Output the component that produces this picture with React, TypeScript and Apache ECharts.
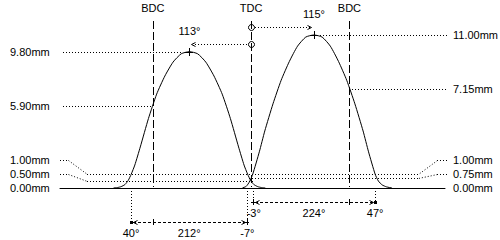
import React, { useEffect, useRef } from "react";
import * as echarts from "echarts";

// Valve lift curves (crank degrees relative to TDC, lift in mm)
const exhaustAngles = [-252, -245, -238, -231, -225, -219.5, -213, -203, -188, -173, -158, -143, -128, -113, -98, -83, -68, -53, -38, -23, -13, -6.5, -1, 5, 12, 19, 26];
const exhaustLift = [0, 0.03, 0.1, 0.25, 0.55, 1.0, 1.65, 2.95, 5.0, 6.75, 8.05, 9.05, 9.65, 9.8, 9.65, 9.05, 8.05, 6.75, 5.0, 2.95, 1.65, 1.0, 0.55, 0.25, 0.1, 0.03, 0];
const intakeAngles = [-16, -9, -3, 3, 15, 25, 40, 55, 70, 85, 100, 115, 130, 145, 160, 175, 190, 205, 215, 227, 233, 240, 248, 258];
const intakeLift = [0, 0.12, 0.45, 1.0, 2.6, 4.1, 6.05, 7.75, 9.1, 10.2, 10.85, 11.0, 10.85, 10.2, 9.1, 7.75, 6.05, 4.1, 2.6, 1.0, 0.5, 0.22, 0.08, 0];

// Dead centres
const deadCentres = [-180, 0, 180];
const deadCentreLabels = ["BDC", "TDC", "BDC"];

// Lobe centrelines
const peakAngles = [-113, 115];
const peakLifts = [9.8, 11.0];
const peakLabels = ["113°", "115°"];

// Valve events
const exhaustEvents = [-220, -7];
const exhaustEventLabels = ["40°", "212°", "-7°"];
const intakeEvents = [3, 227];
const intakeEventLabels = ["-3°", "224°", "47°"];

// Lift level labels
const leftLevels = [9.8, 5.9, 1.0, 0.5, 0];
const leftLevelLabels = ["9.80mm", "5.90mm", "1.00mm", "0.50mm", "0.00mm"];
const rightLevels = [11.0, 7.15, 1.0, 0.75, 0];
const rightLevelLabels = ["11.00mm", "7.15mm", "1.00mm", "0.75mm", "0.00mm"];

const X_MIN = -350;
const X_MAX = 355;
const FONT = { fontSize: 11, fontFamily: '"Liberation Sans", Arial, sans-serif' };
const DOT = [1, 2];
const DASH = [8, 3];
const SHORT = [3, 2];

function renderItem(params: any, api: any) {
  const c = (a: number, l: number) => api.coord([a, l]);
  const R = (v: number) => Math.round(v) + 0.5;
  const I = (v: number) => Math.round(v);
  const els: any[] = [];
  const line = (x1: number, y1: number, x2: number, y2: number, dash?: number[]) => {
    let shape;
    if (Math.abs(y1 - y2) < 0.01) shape = { x1: I(x1), y1: R(y1), x2: I(x2), y2: R(y2) };
    else if (Math.abs(x1 - x2) < 0.01) shape = { x1: R(x1), y1: I(y1), x2: R(x2), y2: I(y2) };
    else shape = { x1: R(x1), y1: R(y1), x2: R(x2), y2: R(y2) };
    els.push({
      type: "line",
      shape,
      style: { stroke: "#000", lineWidth: 1, lineDash: dash || null, fill: null },
    });
  };
  const poly = (pts: number[][]) =>
    els.push({
      type: "polyline",
      shape: { points: pts.map((p) => [R(p[0]), R(p[1])]) },
      style: { stroke: "#000", lineWidth: 1, fill: null },
    });
  const text = (s: string, x: number, y: number, align = "center") =>
    els.push({
      type: "text",
      x,
      y,
      style: { text: s, fill: "#000", ...FONT, align, verticalAlign: "middle" },
    });

  const yBase = c(0, 0)[1];
  const yTop = c(0, 11)[1];
  const xL = c(X_MIN, 0)[0];
  const xR = c(X_MAX, 0)[0];
  const tdcX = c(0, 0)[0];

  // dead centre lines
  deadCentres.forEach((a, i) => {
    const x = c(a, 0)[0];
    line(x, yTop - 14, x, yBase - 1, DASH);
    text(deadCentreLabels[i], x, 8);
  });

  // peaks
  peakAngles.forEach((a, i) => {
    const [px, py] = c(a, peakLifts[i]);
    line(px - 4, py, px + 4, py);
    line(px, py - 4, px, py + 4);
    text(peakLabels[i], px, py - 21);
    const ay = py - 8;
    els.push({
      type: "circle",
      shape: { cx: R(tdcX), cy: R(ay), r: 3 },
      style: { stroke: "#000", lineWidth: 1, fill: null },
    });
    if (px > tdcX) {
      line(tdcX + 4, ay, px - 4, ay, DOT);
      const tip = px - 3;
      poly([[tip - 4, ay - 2], [tip, ay], [tip - 4, ay + 2]]);
    } else {
      line(tdcX - 4, ay, px + 4, ay, DOT);
      const tip = px + 2;
      poly([[tip + 4, ay - 2], [tip, ay], [tip + 4, ay + 2]]);
    }
  });

  // left level labels
  const lx = 10;
  const leftEnds = [c(peakAngles[0], 0)[0] - 6, c(deadCentres[0], 0)[0]];
  leftLevels.forEach((lv, i) => {
    const y = c(0, lv)[1];
    if (i < 2) {
      text(leftLevelLabels[i], lx, y, "left");
      line(xL + 3, y, leftEnds[i], y, DOT);
    } else if (i < 4) {
      const ly = yBase - (4 - i) * 14;
      text(leftLevelLabels[i], lx, ly, "left");
      line(xL, ly, xL + 8, ly, DOT);
      line(xL + 8, ly, xL + 27, y, DOT);
      const end = i === 2 ? xR - 27 : tdcX + 2;
      line(xL + 27, y, end, y, DOT);
    } else {
      text(leftLevelLabels[i], lx, y, "left");
    }
  });

  // right level labels
  const rx = xR + 8;
  const rightStarts = [c(peakAngles[1], 0)[0] + 6, c(deadCentres[2], 0)[0]];
  rightLevels.forEach((lv, i) => {
    const y = c(0, lv)[1];
    if (i < 2) {
      text(rightLevelLabels[i], rx, y, "left");
      line(rightStarts[i], y, xR + 2, y, DOT);
    } else if (i < 4) {
      const ly = yBase - (4 - i) * 14;
      text(rightLevelLabels[i], rx, ly, "left");
      line(xR - 8, ly, xR + 2, ly, DOT);
      line(xR - 8, ly, xR - 27, y, DOT);
      if (i === 3) line(tdcX - 2, y, xR - 27, y, DOT);
    } else {
      text(rightLevelLabels[i], rx, y, "left");
    }
  });

  // exhaust timing row
  {
    const y = yBase + 34;
    const xo = c(exhaustEvents[0], 0)[0];
    const xc = c(exhaustEvents[1], 0)[0];
    line(xo, yBase + 3, xo, y, DOT);
    line(xc, yBase + 3, xc, y, DOT);
    line(xo + 2, y, xc - 2, y, SHORT);
    els.push({ type: "rect", shape: { x: Math.round(xo) - 1, y: Math.round(y) - 1, width: 3, height: 3 }, style: { fill: "#000" } });
    poly([[xo + 6, y - 2], [xo + 2, y], [xo + 6, y + 2]]);
    poly([[xc - 6, y - 2], [xc - 2, y], [xc - 6, y + 2]]);
    line(xc - 2, y, xc + 2, y);
    line(xc, y - 3, xc, y + 3);
    const bx = c(deadCentres[0], 0)[0];
    line(bx, y - 3, bx, y + 3);
    text(exhaustEventLabels[0], xo, y + 11);
    text(exhaustEventLabels[1], (xo + xc) / 2, y + 11);
    text(exhaustEventLabels[2], xc, y + 11);
  }

  // intake timing row
  {
    const y = yBase + 14;
    const xo = c(intakeEvents[0], 0)[0];
    const xc = c(intakeEvents[1], 0)[0];
    line(xo, yBase + 3, xo, y, DOT);
    line(xc, yBase + 3, xc, y, DOT);
    line(xo + 2, y, xc - 2, y, SHORT);
    line(xo - 2, y, xo + 2, y);
    line(xo, y - 3, xo, y + 3);
    poly([[xo + 6, y - 2], [xo + 2, y], [xo + 6, y + 2]]);
    poly([[xc - 6, y - 2], [xc - 2, y], [xc - 6, y + 2]]);
    els.push({ type: "rect", shape: { x: Math.round(xc) - 1, y: Math.round(y) - 1, width: 3, height: 3 }, style: { fill: "#000" } });
    const bx = c(deadCentres[2], 0)[0];
    line(bx, y - 3, bx, y + 3);
    text(intakeEventLabels[0], xo + 1, y + 11);
    text(intakeEventLabels[1], (xo + xc) / 2, y + 11);
    text(intakeEventLabels[2], xc, y + 11);
  }

  return { type: "group", children: els };
}

export default function App() {
  const ref = useRef<HTMLDivElement>(null);
  useEffect(() => {
    if (!ref.current) return;
    const chart = echarts.init(ref.current, null, { renderer: "svg" });
    chart.setOption({
      animation: false,
      backgroundColor: "#fff",
      grid: { left: 60, right: 55, top: 35, bottom: 52 },
      xAxis: {
        type: "value",
        min: X_MIN,
        max: X_MAX,
        axisLine: { show: true, lineStyle: { color: "#000", width: 1 } },
        axisTick: { show: false },
        axisLabel: { show: false },
        splitLine: { show: false },
      },
      yAxis: { type: "value", min: 0, max: 11, show: false, splitLine: { show: false } },
      series: [
        {
          type: "custom",
          renderItem,
          data: [[0, 0]],
          clip: false,
          silent: true,
          z: 2,
        },
        {
          type: "line",
          data: exhaustAngles.map((a, i) => [a, exhaustLift[i]]),
          symbol: "none",
          smooth: 0.2,
          lineStyle: { color: "#000", width: 1 },
          clip: false,
          z: 3,
        },
        {
          type: "line",
          data: intakeAngles.map((a, i) => [a, intakeLift[i]]),
          symbol: "none",
          smooth: 0.2,
          lineStyle: { color: "#000", width: 1 },
          clip: false,
          z: 3,
        },
      ],
    });
    return () => chart.dispose();
  }, []);
  return (
    <div
      ref={ref}
      style={{ position: "fixed", left: 0, top: 0, width: 500, height: 240, background: "#fff" }}
    />
  );
}
